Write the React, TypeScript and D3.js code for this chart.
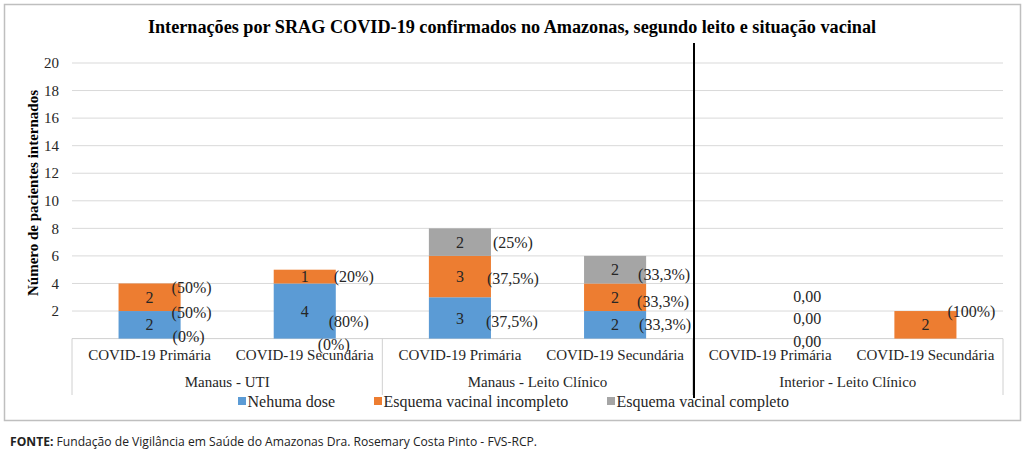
import React from 'react';
import * as d3 from 'd3';

// categories and groups of the multi-level axis
const categories = [
  'COVID-19 Primária',
  'COVID-19 Secundária',
  'COVID-19 Primária ',
  'COVID-19 Secundária ',
  'COVID-19 Primária  ',
  'COVID-19 Secundária  ',
];
const groups = ['Manaus - UTI', 'Manaus - Leito Clínico', 'Interior - Leito Clínico'];
const groupSize = [2, 2, 2];

// series values
const seriesNames = ['Nehuma dose', 'Esquema vacinal incompleto', 'Esquema vacinal completo'];
const nenhuma = [2, 4, 3, 2, 0, 0];
const incompleto = [2, 1, 3, 2, 0, 2];
const completo = [0, 0, 2, 2, 0, 0];

// percentage labels per series
const pctNenhuma = ['(50%)', '(80%)', '(37,5%)', '(33,3%)', '0,00', ''];
const pctIncompleto = ['(50%)', '(20%)', '(37,5%)', '(33,3%)', '0,00', '(100%)'];
const pctCompleto = ['(0%)', '(0%)', '(25%)', '(33,3%)', '0,00', ''];

const yTicks = [2, 4, 6, 8, 10, 12, 14, 16, 18, 20];

// where the percentage labels sit (value units) and their shift from bar's right edge
const pctLayout = [
  { at: [1.93, 1.27, 1.28, 1.04, 1.47, 0], dx: [-9, -7, -5, -7, -8, 0] },
  { at: [3.74, 4.54, 4.37, 2.73, 3.08, 2.0], dx: [-9, -2, -4, -9, -8, -9] },
  { at: [0.19, -0.4, 6.96, 4.67, -0.18, 0], dx: [-8, -18, 2, -8, -8, 0] },
];

const colors = ['#5B9BD5', '#ED7D31', '#A5A5A5'];
const serif = '"Liberation Serif", "Times New Roman", serif';
const textCol = '#262626';

export default function App() {
  const W = 1024;
  const H = 454;
  const left = 72;
  const right = 1003;
  const axisY = 338.6;

  const x = d3.scaleBand<string>()
    .domain(categories)
    .range([left, right])
    .paddingInner(0.6)
    .paddingOuter(0.3);
  const y = d3.scaleLinear().domain([0, 20]).range([axisY, 63]);

  const table = categories.map((c, i) => ({
    cat: c,
    nenhuma: nenhuma[i],
    incompleto: incompleto[i],
    completo: completo[i],
  }));
  const stack = d3.stack<any>().keys(['nenhuma', 'incompleto', 'completo'])(table);
  const pcts = [pctNenhuma, pctIncompleto, pctCompleto];

  // group boundaries in pixels
  const step = x.step();
  let acc = 0;
  const groupBounds = groupSize.map((n) => {
    const x0 = left + acc * step;
    acc += n;
    return [x0, left + acc * step];
  });

  const bw = x.bandwidth();

  return (
    <svg
      width={W}
      height={H}
      style={{ position: 'absolute', left: 0, top: 0, background: '#fff' }}
      fontFamily={serif}
    >
      <rect x={0} y={0} width={W} height={H} fill="#fff" />
      <rect x={4.5} y={4.5} width={1016} height={416} fill="none" stroke="#bfbfbf" strokeWidth={1.5} />

      <text x={512} y={33} textAnchor="middle" fontSize={18.2} fontWeight="bold" fill="#000">
        Internações por SRAG COVID-19 confirmados no Amazonas, segundo leito e situação vacinal
      </text>

      {/* gridlines and ticks */}
      {yTicks.map((t) => (
        <g key={t}>
          <line x1={left} x2={right} y1={y(t)} y2={y(t)} stroke="#d9d9d9" strokeWidth={1} />
          <text x={59} y={y(t)} dy="0.35em" textAnchor="end" fontSize={15} fill={textCol}>
            {t}
          </text>
        </g>
      ))}

      <text
        transform={`translate(33,193) rotate(-90)`}
        textAnchor="middle"
        dy="0.35em"
        fontSize={15}
        fontWeight="bold"
        fill="#000"
      >
        Número de pacientes internados
      </text>

      {/* category axis box */}
      <line x1={left} x2={right} y1={axisY} y2={axisY} stroke="#d0d0d0" />
      {[left, ...groupBounds.map((g) => g[1])].map((gx, i) => (
        <line key={i} x1={gx} x2={gx} y1={axisY} y2={395} stroke="#d0d0d0" />
      ))}
      {categories.map((c) => (
        <text
          key={c}
          x={(x(c) as number) + bw / 2}
          y={355}
          dy="0.35em"
          textAnchor="middle"
          fontSize={15}
          fill={textCol}
        >
          {c.trim()}
        </text>
      ))}
      {groups.map((g, i) => (
        <text
          key={g}
          x={(groupBounds[i][0] + groupBounds[i][1]) / 2}
          y={382}
          dy="0.35em"
          textAnchor="middle"
          fontSize={15}
          fill={textCol}
        >
          {g}
        </text>
      ))}

      {/* stacked bars */}
      {stack.map((s, si) => (
        <g key={si}>
          {s.map((d, i) =>
            d[1] - d[0] > 0 ? (
              <g key={i}>
                <rect
                  x={x(categories[i])}
                  y={y(d[1])}
                  width={bw}
                  height={y(d[0]) - y(d[1])}
                  fill={colors[si]}
                />
                <text
                  x={(x(categories[i]) as number) + bw / 2}
                  y={y((d[0] + d[1]) / 2)}
                  dy="0.35em"
                  textAnchor="middle"
                  fontSize={16}
                  fill={textCol}
                >
                  {d[1] - d[0]}
                </text>
              </g>
            ) : null
          )}
        </g>
      ))}

      {/* percentage labels */}
      {pcts.map((arr, si) =>
        arr.map((p, i) =>
          p ? (
            <text
              key={`${si}-${i}`}
              x={(x(categories[i]) as number) + bw + pctLayout[si].dx[i]}
              y={y(pctLayout[si].at[i])}
              dy="0.35em"
              fontSize={16}
              fill={textCol}
            >
              {p}
            </text>
          ) : null
        )
      )}

      {/* separator */}
      <line x1={694} x2={694} y1={43} y2={398} stroke="#000" strokeWidth={2} />

      {/* legend */}
      {seriesNames.map((n, i) => {
        const lx = [238, 374, 607][i];
        return (
          <g key={n}>
            <rect x={lx} y={397} width={8} height={8} fill={colors[i]} />
            <text x={lx + 9.5} y={401} dy="0.35em" fontSize={16} fill={textCol}>
              {n}
            </text>
          </g>
        );
      })}

      <text
        x={10}
        y={446}
        fontFamily='"Open Sans", sans-serif'
        fontSize={12.5}
        fill="#222"
        textLength={527}
        lengthAdjust="spacingAndGlyphs"
      >
        <tspan fontWeight="bold">FONTE:</tspan> Fundação de Vigilância em Saúde do Amazonas Dra. Rosemary Costa Pinto - FVS-RCP.
      </text>
    </svg>
  );
}
